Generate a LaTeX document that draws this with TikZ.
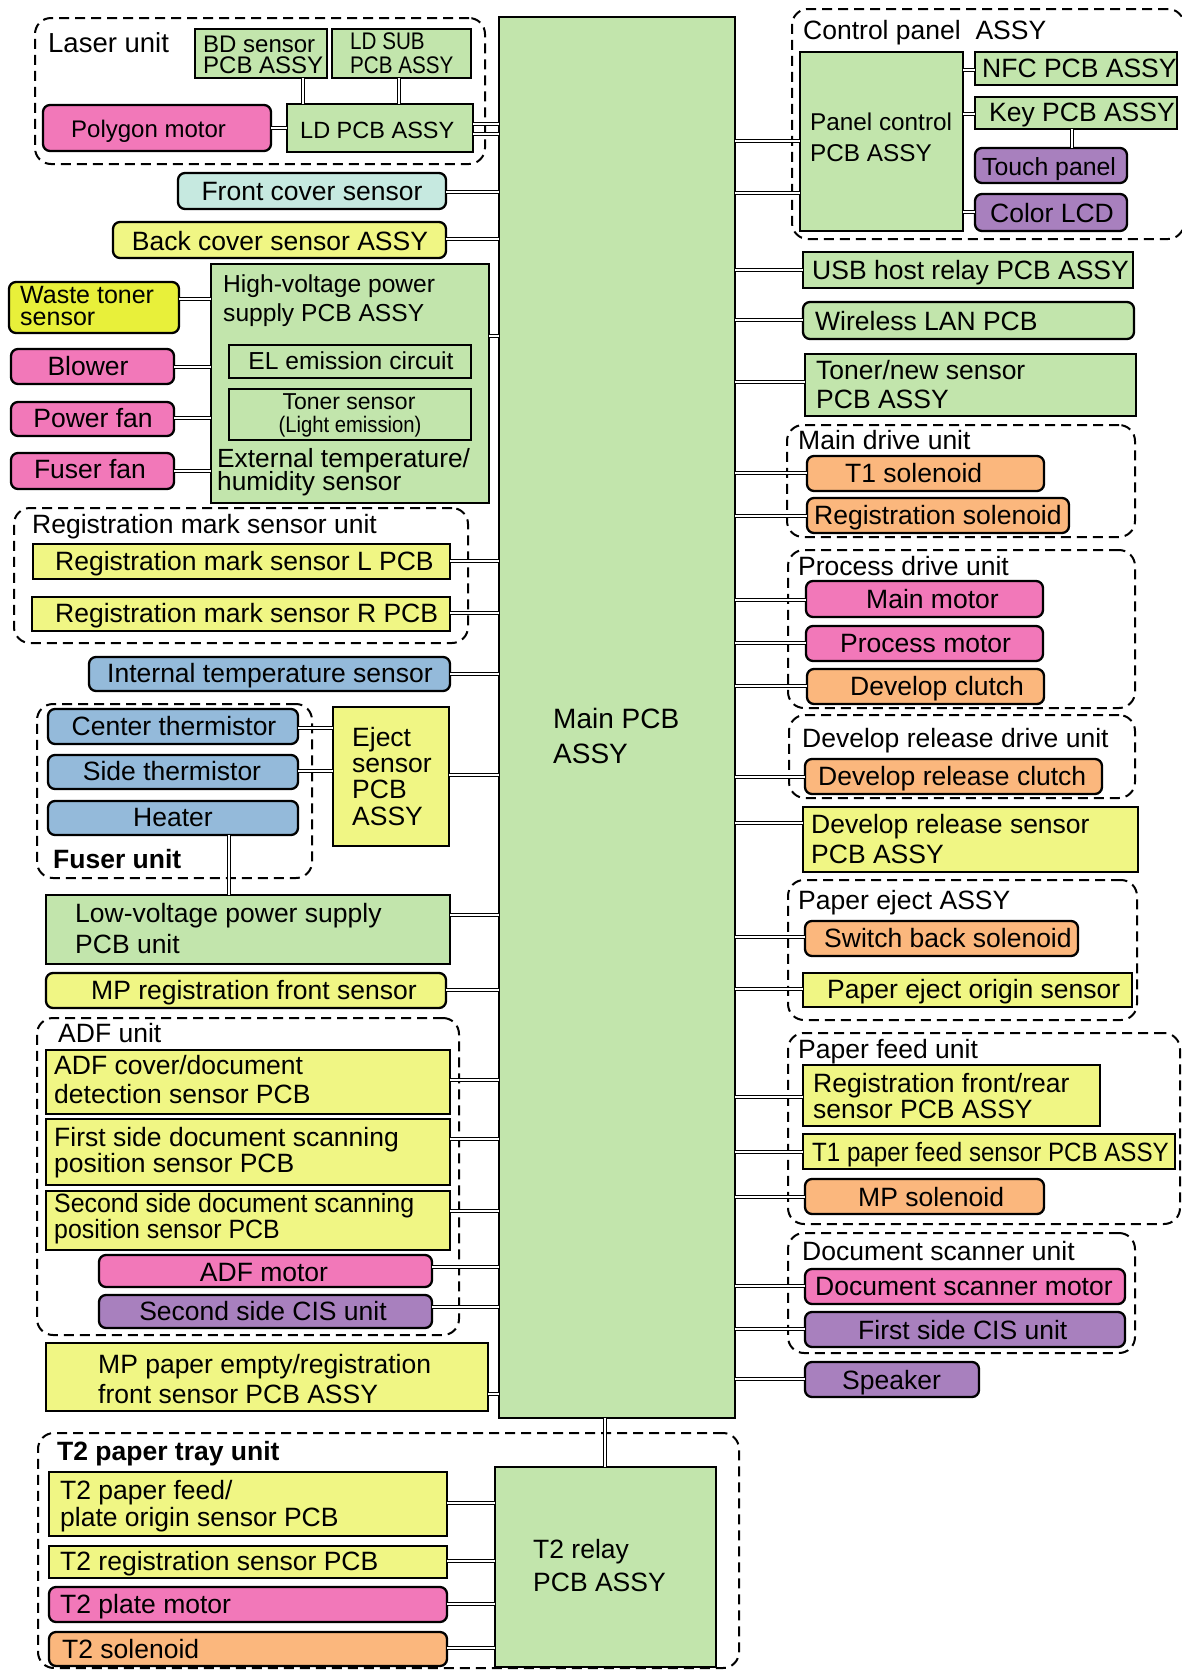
\documentclass[tikz,border=0pt]{standalone}
\usepackage{fontspec}
\setmainfont{Liberation Sans}
\newfontfamily\condA[FakeStretch=0.86]{Liberation Sans}
\newfontfamily\condB[FakeStretch=0.9]{Liberation Sans}
\newfontfamily\condC[FakeStretch=0.94]{Liberation Sans}
\newfontfamily\condD[FakeStretch=0.91]{Liberation Sans}
\usetikzlibrary{fit}
\definecolor{cgreen}{RGB}{194,229,172}
\definecolor{cyel}{RGB}{240,246,132}
\definecolor{cbyel}{RGB}{232,240,58}
\definecolor{cpink}{RGB}{242,120,185}
\definecolor{corange}{RGB}{251,183,125}
\definecolor{cpurple}{RGB}{168,128,190}
\definecolor{cblue}{RGB}{148,186,218}
\definecolor{ccyan}{RGB}{198,233,224}
\newcounter{tc}
\newcommand\fs[1]{\fontsize{#1}{#1}\selectfont}
\newcommand\bx[6]{\node[#1,fit={(#3,#4) (#5,#6)}] (#2) {};}
\newcommand\tx[3][]{\stepcounter{tc}\node[txt,#1] (tx\arabic{tc}) at (#2) {#3};}
\newcommand\cx[3][]{\stepcounter{tc}\node[txt,anchor=base,#1] (tx\arabic{tc}) at (#2) {#3};}
\newcommand\hc[3]{\draw[conn] (#1.east |- 0,#3) -- (#2.west |- 0,#3);}
\newcommand\vc[3]{\draw[conn] (#1.south -| #3,0) -- (#2.north -| #3,0);}
\begin{document}
\begin{tikzpicture}[x=1pt,y=-1pt,
  sq/.style={draw,line width=2.3pt,inner sep=0pt,outer sep=0pt},
  rd/.style={sq,rounded corners=7pt},
  grp/.style={draw,line width=2pt,dash pattern=on 10pt off 6pt,rounded corners=16pt,inner sep=0pt,outer sep=0pt},
  conn/.style={line width=1.6pt,double=white,double distance=1.2pt},
  txt/.style={anchor=base west,inner sep=0pt,font=\fs{26.5}},
]
\useasboundingbox[fill=white] (0,0) rectangle (1182,1671);
% groups
\bx{grp}{g1}{35}{18}{485}{164}
\bx{grp}{g2}{792}{9}{1184}{239}
\bx{grp}{g3}{14}{508}{468}{643}
\bx{grp}{g4}{37}{704}{312}{878}
\bx{grp}{g5}{37}{1018}{459}{1335}
\bx{grp}{g6}{38}{1433}{739}{1668}
\bx{grp}{g7}{787}{425}{1135}{537}
\bx{grp}{g8}{788}{550}{1135}{708}
\bx{grp}{g9}{789}{715}{1135}{798}
\bx{grp}{g10}{788}{880}{1137}{1020}
\bx{grp}{g11}{788}{1033}{1180}{1224}
\bx{grp}{g12}{788}{1233}{1135}{1353}
% main
\bx{sq,fill=cgreen}{main}{499}{17}{735}{1418}
% left boxes
\bx{sq,fill=cgreen}{bd}{195}{29}{327}{78}
\bx{sq,fill=cgreen}{ldsub}{332}{29}{471}{78}
\bx{rd,fill=cpink}{poly}{43}{105}{271}{151}
\bx{sq,fill=cgreen}{ld}{287}{104}{473}{152}
\bx{rd,fill=ccyan}{front}{178}{173}{446}{209}
\bx{rd,fill=cyel}{back}{113}{222}{446}{258}
\bx{sq,fill=cgreen}{hv}{211}{264}{489}{503}
\bx{sq,fill=cgreen}{el}{229}{345}{471}{378}
\bx{sq,fill=cgreen}{toner}{229}{389}{471}{440}
\bx{rd,fill=cbyel}{waste}{9}{282}{179}{333}
\bx{rd,fill=cpink}{blower}{11}{349}{174}{384}
\bx{rd,fill=cpink}{pfan}{11}{402}{174}{436}
\bx{rd,fill=cpink}{ffan}{11}{453}{174}{489}
\bx{sq,fill=cyel}{regl}{33}{544}{450}{579}
\bx{sq,fill=cyel}{regr}{32}{597}{450}{631}
\bx{rd,fill=cblue}{itemp}{89}{657}{450}{691}
\bx{rd,fill=cblue}{cth}{48}{709}{298}{744}
\bx{rd,fill=cblue}{sth}{48}{755}{298}{789}
\bx{rd,fill=cblue}{heater}{48}{801}{298}{835}
\bx{sq,fill=cyel}{eject}{333}{707}{449}{846}
\bx{sq,fill=cgreen}{lv}{46}{895}{450}{964}
\bx{rd,fill=cyel}{mpreg}{46}{973}{446}{1008}
\bx{sq,fill=cyel}{adfc}{46}{1050}{450}{1114}
\bx{sq,fill=cyel}{fsd}{46}{1119}{450}{1185}
\bx{sq,fill=cyel}{ssd}{46}{1191}{450}{1250}
\bx{rd,fill=cpink}{adfm}{99}{1255}{432}{1287}
\bx{rd,fill=cpurple}{scis}{99}{1295}{432}{1328}
\bx{sq,fill=cyel}{mpe}{46}{1343}{488}{1411}
\bx{sq,fill=cyel}{tfeed}{49}{1472}{447}{1536}
\bx{sq,fill=cyel}{treg}{49}{1546}{447}{1578}
\bx{rd,fill=cpink}{tmotor}{49}{1587}{447}{1622}
\bx{rd,fill=corange}{tsol}{49}{1632}{447}{1666}
\bx{sq,fill=cgreen}{trelay}{495}{1467}{716}{1667}
% right boxes
\bx{sq,fill=cgreen}{panel}{800}{52}{963}{231}
\bx{sq,fill=cgreen}{nfc}{975}{52}{1177}{85}
\bx{sq,fill=cgreen}{key}{975}{97}{1177}{129}
\bx{rd,fill=cpurple}{touch}{975}{148}{1127}{183}
\bx{rd,fill=cpurple}{lcd}{975}{194}{1127}{231}
\bx{sq,fill=cgreen}{usb}{803}{252}{1133}{288}
\bx{rd,fill=cgreen}{wlan}{803}{302}{1134}{339}
\bx{sq,fill=cgreen}{tnew}{805}{354}{1136}{416}
\bx{rd,fill=corange}{tsolr}{807}{456}{1044}{491}
\bx{rd,fill=corange}{regsol}{807}{498}{1069}{533}
\bx{rd,fill=cpink}{mmotor}{806}{581}{1043}{617}
\bx{rd,fill=cpink}{pmotor}{806}{626}{1043}{661}
\bx{rd,fill=corange}{dclutch}{807}{669}{1044}{704}
\bx{rd,fill=corange}{drclutch}{805}{759}{1102}{794}
\bx{sq,fill=cyel}{drsensor}{803}{807}{1138}{872}
\bx{rd,fill=corange}{sbsol}{805}{921}{1078}{956}
\bx{sq,fill=cyel}{peos}{803}{973}{1132}{1007}
\bx{sq,fill=cyel}{regfr}{803}{1065}{1100}{1126}
\bx{sq,fill=cyel}{tpf}{803}{1134}{1175}{1169}
\bx{rd,fill=corange}{mpsol}{805}{1179}{1044}{1214}
\bx{rd,fill=cpink}{dsmotor}{805}{1269}{1125}{1304}
\bx{rd,fill=cpurple}{fcis}{805}{1312}{1125}{1347}
\bx{rd,fill=cpurple}{speaker}{805}{1362}{979}{1397}
% connectors left
\hc{ld}{main}{124}
\hc{ld}{main}{134}
\hc{poly}{ld}{128}
\vc{bd}{ld}{303}
\vc{ldsub}{ld}{399}
\hc{front}{main}{192}
\hc{back}{main}{239}
\hc{hv}{main}{336}
\hc{waste}{hv}{299}
\hc{blower}{hv}{367}
\hc{pfan}{hv}{418}
\hc{ffan}{hv}{471}
\hc{regl}{main}{561}
\hc{regr}{main}{613}
\hc{itemp}{main}{674}
\hc{cth}{eject}{728}
\hc{sth}{eject}{771}
\hc{eject}{main}{775}
\vc{heater}{lv}{229}
\hc{lv}{main}{915}
\hc{mpreg}{main}{990}
\hc{adfc}{main}{1080}
\hc{fsd}{main}{1139}
\hc{ssd}{main}{1211}
\hc{adfm}{main}{1267}
\hc{scis}{main}{1307}
\hc{mpe}{main}{1394}
\vc{main}{trelay}{605}
\hc{tfeed}{trelay}{1503}
\hc{treg}{trelay}{1561}
\hc{tmotor}{trelay}{1604}
\hc{tsol}{trelay}{1648}
% connectors right
\hc{main}{panel}{141}
\hc{main}{panel}{193}
\hc{panel}{nfc}{70}
\hc{panel}{key}{114}
\vc{key}{touch}{1072}
\hc{panel}{lcd}{212}
\hc{main}{usb}{270}
\hc{main}{wlan}{320}
\hc{main}{tnew}{382}
\hc{main}{tsolr}{473}
\hc{main}{regsol}{516}
\hc{main}{mmotor}{600}
\hc{main}{pmotor}{643}
\hc{main}{dclutch}{686}
\hc{main}{drclutch}{777}
\hc{main}{drsensor}{823}
\hc{main}{sbsol}{937}
\hc{main}{peos}{989}
\hc{main}{regfr}{1097}
\hc{main}{tpf}{1152}
\hc{main}{mpsol}{1197}
\hc{main}{dsmotor}{1286}
\hc{main}{fcis}{1329}
\hc{main}{speaker}{1379}
% texts left
\tx[font=\fs{27.5}]{48,52}{Laser unit}
\tx[font=\fs{24}]{203,52}{BD sensor}
\tx[font=\fs{24}]{203,73}{PCB ASSY}
\tx[font=\fs{24}\condA]{350,49}{LD SUB}
\tx[font=\fs{24}\condA]{350,73}{PCB ASSY}
\tx[font=\fs{24}]{71,137}{Polygon motor}
\tx[font=\fs{23.5}]{300,138}{LD PCB ASSY}
\cx{312,200}{Front cover sensor}
\cx{280,250}{Back cover sensor ASSY}
\tx[font=\fs{24.6}]{223,292}{High-voltage power}
\tx[font=\fs{24.6}]{223,321}{supply PCB ASSY}
\cx[font=\fs{24.6}]{351,369}{EL emission circuit}
\cx[font=\fs{23}]{349,409}{Toner sensor}
\cx[font=\fs{22.5}\condB]{350,432}{(Light emission)}
\tx[font=\fs{26.3}]{217,467}{External temperature/}
\tx[font=\fs{26.3}]{217,490}{humidity sensor}
\tx[font=\fs{25}]{20,303}{Waste toner}
\tx[font=\fs{25}]{20,325}{sensor}
\cx{88,375}{Blower}
\cx{93,427}{Power fan}
\cx{90,478}{Fuser fan}
\tx{32,533}{Registration mark sensor unit}
\tx{55,570}{Registration mark sensor L PCB}
\tx{55,622}{Registration mark sensor R PCB}
\cx{270,682}{Internal temperature sensor}
\cx{174,735}{Center thermistor}
\cx{172,780}{Side thermistor}
\cx{173,826}{Heater}
\tx[font=\fs{26.5}\bfseries]{53,868}{Fuser unit}
\tx{352,746}{Eject}
\tx{352,772}{sensor}
\tx{352,798}{PCB}
\tx{352,825}{ASSY}
\tx{75,922}{Low-voltage power supply}
\tx{75,953}{PCB unit}
\tx{91,999}{MP registration front sensor}
\tx{58,1042}{ADF unit}
\tx{54,1074}{ADF cover/document}
\tx{54,1103}{detection sensor PCB}
\tx{54,1146}{First side document scanning}
\tx{54,1172}{position sensor PCB}
\tx[font=\fs{26.5}\condC]{54,1212}{Second side document scanning}
\tx[font=\fs{26.5}\condC]{54,1238}{position sensor PCB}
\cx{264,1281}{ADF motor}
\cx{263,1320}{Second side CIS unit}
\tx{98,1373}{MP paper empty/registration}
\tx{98,1403}{front sensor PCB ASSY}
\tx[font=\fs{26.5}\bfseries]{57,1460}{T2 paper tray unit}
\tx{60,1499}{T2 paper feed/}
\tx{60,1526}{plate origin sensor PCB}
\tx{60,1570}{T2 registration sensor PCB}
\tx{60,1613}{T2 plate motor}
\tx{62,1658}{T2 solenoid}
\tx{533,1558}{T2 relay}
\tx{533,1591}{PCB ASSY}
\tx[font=\fs{28}]{553,728}{Main PCB}
\tx[font=\fs{28}]{553,763}{ASSY}
% texts right
\tx{803,39}{Control panel\ \ ASSY}
\tx[font=\fs{24.3}]{810,130}{Panel control}
\tx[font=\fs{24.3}]{810,161}{PCB ASSY}
\tx{982,77}{NFC PCB ASSY}
\tx{989,121}{Key PCB ASSY}
\tx[font=\fs{24.8}]{982,175}{Touch panel}
\cx{1052,222}{Color LCD}
\tx{812,279}{USB host relay PCB ASSY}
\tx{815,330}{Wireless LAN PCB}
\tx{816,379}{Toner/new sensor}
\tx{816,408}{PCB ASSY}
\tx{798,449}{Main drive unit}
\tx{845,482}{T1 solenoid}
\tx{814,524}{Registration solenoid}
\tx{798,575}{Process drive unit}
\tx{866,608}{Main motor}
\tx{840,652}{Process motor}
\tx{850,695}{Develop clutch}
\tx{802,747}{Develop release drive unit}
\tx{818,785}{Develop release clutch}
\tx{811,833}{Develop release sensor}
\tx{811,863}{PCB ASSY}
\tx{798,909}{Paper eject ASSY}
\tx{824,947}{Switch back solenoid}
\tx{827,998}{Paper eject origin sensor}
\tx{798,1058}{Paper feed unit}
\tx{813,1092}{Registration front/rear}
\tx{813,1118}{sensor PCB ASSY}
\tx[font=\fs{26.5}\condD]{812,1161}{T1 paper feed sensor PCB ASSY}
\tx{858,1206}{MP solenoid}
\tx{802,1260}{Document scanner unit}
\tx{815,1295}{Document scanner motor}
\tx{858,1339}{First side CIS unit}
\tx{842,1389}{Speaker}
\end{tikzpicture}
\end{document}
